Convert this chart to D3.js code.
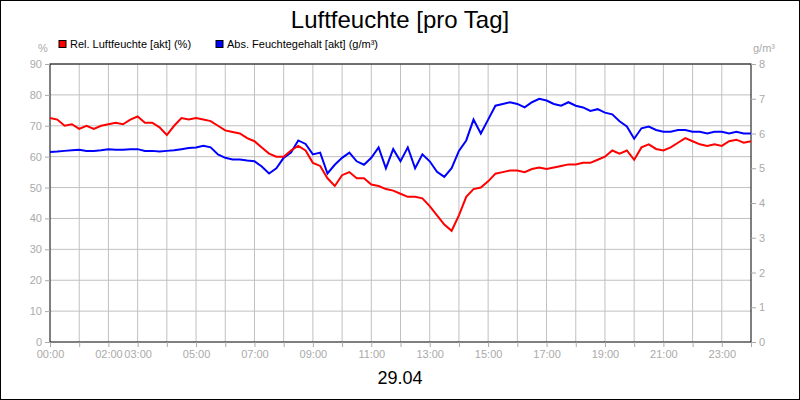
<!DOCTYPE html><html><head><meta charset="utf-8"><script src="https://cdn.jsdelivr.net/npm/d3@7"></script>
<style>body{margin:0;background:#fff}text{font-family:Arial,"Liberation Sans",sans-serif}</style></head><body><svg id="c" width="800" height="400"></svg>
<script>
const hours = d3.range(0, 24.01, 0.25);
const relHum = [72.5,72,70,70.5,69,70,69,70,70.5,71,70.5,72,73,71,71,69.5,67,70,72.5,72,72.5,72,71.5,70,68.5,68,67.5,66,65,63,61,60,60,62,63.5,62,58,57,53,50.5,54,55,53,53,51,50.5,49.5,49,48,47,47,46.5,44,41,38,36,41,47,49.5,50,52,54.5,55,55.5,55.5,55,56,56.5,56,56.5,57,57.5,57.5,58,58,59,60,62,61,62,59,63,64,62.5,62,63,64.5,66,65,64,63.5,64,63.5,65,65.5,64.5,65];
const absHum = [5.47,5.48,5.5,5.52,5.53,5.5,5.5,5.52,5.55,5.53,5.53,5.55,5.55,5.5,5.5,5.48,5.5,5.52,5.55,5.58,5.6,5.65,5.6,5.4,5.3,5.25,5.25,5.22,5.2,5.05,4.85,5.0,5.3,5.45,5.8,5.7,5.4,5.45,4.85,5.1,5.3,5.45,5.2,5.1,5.3,5.6,5.0,5.55,5.2,5.6,5.0,5.4,5.2,4.9,4.75,5.0,5.5,5.8,6.4,6.0,6.4,6.8,6.85,6.9,6.85,6.75,6.9,7.0,6.95,6.85,6.8,6.9,6.8,6.75,6.65,6.7,6.6,6.55,6.35,6.2,5.85,6.15,6.2,6.1,6.05,6.05,6.1,6.1,6.05,6.05,6.0,6.05,6.05,6.0,6.05,6.0,6.0];
const leftTicks = d3.range(0, 91, 10);
const rightTicks = d3.range(0, 9, 1);
const xTickHours = [0,2,3,5,7,9,11,13,15,17,19,21,23];
const xTickLabels = ["00:00","02:00","03:00","05:00","07:00","09:00","11:00","13:00","15:00","17:00","19:00","21:00","23:00"];

const svg = d3.select("#c");
const L=50,R=751,T=64,B=342;
const x = d3.scaleLinear().domain([0,24]).range([L,R]);
const yL = d3.scaleLinear().domain([0,90]).range([B,T]);
const yR = d3.scaleLinear().domain([0,8]).range([B,T]);
svg.append("rect").attr("x",0.5).attr("y",0.5).attr("width",799).attr("height",399).attr("fill","#fff").attr("stroke","#000");
const g = svg.append("g");
// grid
g.selectAll(".vg").data(d3.range(1,24)).join("line").attr("x1",d=>x(d)).attr("x2",d=>x(d)).attr("y1",T).attr("y2",B).attr("stroke","#c0c0c0");
g.selectAll(".hg").data(leftTicks.slice(1)).join("line").attr("x1",L).attr("x2",R).attr("y1",d=>yL(d)).attr("y2",d=>yL(d)).attr("stroke","#c0c0c0");
g.append("rect").attr("x",L).attr("y",T).attr("width",R-L).attr("height",B-T).attr("fill","none").attr("stroke","#000");
const style = sel=>{sel.select(".domain").remove();sel.selectAll("line").attr("stroke","#aaa");sel.selectAll("text").attr("fill","#aaa").style("font-size","11px");};
svg.append("g").attr("transform",`translate(${L},0)`).call(d3.axisLeft(yL).tickValues(leftTicks).tickSize(5).tickPadding(3)).call(style);
svg.append("g").attr("transform",`translate(${R},0)`).call(d3.axisRight(yR).tickValues(rightTicks).tickSize(5).tickPadding(3)).call(style);
svg.append("g").attr("transform",`translate(0,${B})`).call(d3.axisBottom(x).tickValues(d3.range(0,25)).tickSize(5).tickFormat(()=>"")).call(style);
svg.append("g").attr("transform",`translate(0,${B})`).call(d3.axisBottom(x).tickValues(xTickHours).tickSize(0).tickPadding(8).tickFormat((d,i)=>xTickLabels[i])).call(style);
const line = (ys,arr)=>d3.line().x((d,i)=>x(hours[i])).y(d=>ys(d))(arr);
g.append("path").attr("d",line(yR,absHum)).attr("fill","none").attr("stroke","#0000ff").attr("stroke-width",2);
g.append("path").attr("d",line(yL,relHum)).attr("fill","none").attr("stroke","#ff0000").attr("stroke-width",2);
svg.append("text").attr("x",400).attr("y",28).attr("text-anchor","middle").style("font-size","24px").text("Luftfeuchte [pro Tag]");
svg.append("text").attr("x",400).attr("y",384).attr("text-anchor","middle").style("font-size","18px").text("29.04");
svg.append("text").attr("x",43).attr("y",52).attr("text-anchor","middle").attr("fill","#aaa").style("font-size","11px").text("%");
svg.append("text").attr("x",764).attr("y",52).attr("text-anchor","middle").attr("fill","#aaa").style("font-size","11px").text("g/m³");
const leg=[["Rel. Luftfeuchte [akt] (%)","#ff0000",59],["Abs. Feuchtegehalt [akt] (g/m³)","#0000ff",216]];
leg.forEach(([t,c,lx])=>{svg.append("rect").attr("x",lx).attr("y",40.5).attr("width",7).attr("height",7).attr("fill",c).attr("stroke","#000");
svg.append("text").attr("x",lx+11).attr("y",48).style("font-size","11px").text(t);});
</script></body></html>
